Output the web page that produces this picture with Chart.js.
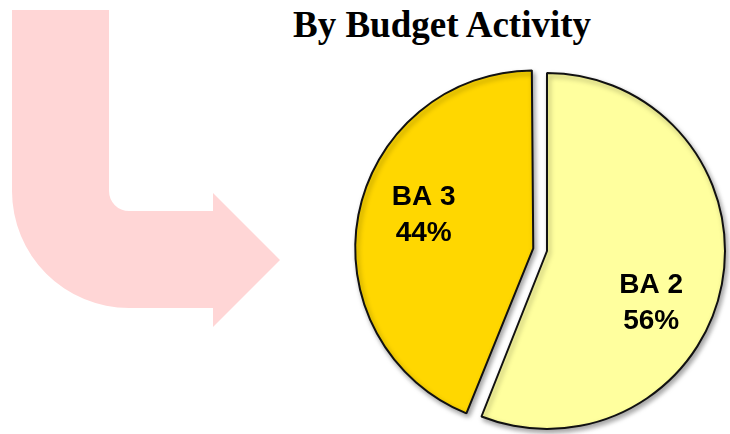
<html>
<head>
<title>By Budget Activity</title>
<script src="https://cdn.jsdelivr.net/npm/chart.js@4.4.1/dist/chart.umd.min.js"></script>
<style type="text/css">
  body {
    margin: 0;
    background: #ffffff;
  }
  #wrap {
    position: relative;
    width: 730px;
    height: 434px;
    overflow: hidden;
  }
  #arrow {
    position: absolute;
    left: 0;
    top: 0;
  }
  #chart-title {
    position: absolute;
    left: 154px;
    top: 6px;
    width: 576px;
    text-align: center;
    font-family: "Liberation Serif", "Times New Roman", serif;
    font-weight: bold;
    font-size: 37px;
    line-height: 1;
    color: #000;
  }
  #pie {
    position: absolute;
    left: 0;
    top: 0;
  }
</style>
</head>
<body>

<div id="wrap">
  <!-- pink bent arrow in the background -->
  <svg id="arrow" width="300" height="434">
    <path d="M12,10 H109 V191 A20,20 0 0 0 129,211 H213 V193 L280,260 L213,327 V308 H129 A117,117 0 0 1 12,191 Z"
          fill="#ffd6d6"/>
  </svg>
  <div id="chart-title">By Budget Activity</div>
  <canvas id="pie" width="730" height="434"></canvas>
</div>

<script>
// data
var categories = ['BA 2', 'BA 3'];
var shares = [56, 44];
var sliceColors = ['#ffff9e', '#ffd700'];
var sliceEdges = ['#e6e67a', '#e9b800'];
var explode = [0, 56];   // chart.js moves a slice by offset/4

// label spots: turn from the slice middle (deg) and part of the radius
var labelTurn = [15, 7];
var labelReach = [0.65, 0.68];

// chart.js grows an offset arc a bit, pull it back so both halves match
var keepRadius = {
  id: 'keepRadius',
  afterDatasetsUpdate: function(chart) {
    chart.getDatasetMeta(0).data.forEach(function(arc) {
      var off = (arc.options.offset || 0) / 4;
      var fix = 1 - Math.sin(Math.min(Math.PI, arc.circumference));
      arc.outerRadius -= off * fix;
    });
  }
};

// soft drop shadow under the slices
var softShadow = {
  id: 'softShadow',
  beforeDatasetsDraw: function(chart) {
    var ctx = chart.ctx;
    ctx.save();
    ctx.shadowColor = 'rgba(0,0,0,0.35)';
    ctx.shadowBlur = 5;
    ctx.shadowOffsetX = 2;
    ctx.shadowOffsetY = 3;
  },
  afterDatasetsDraw: function(chart) {
    chart.ctx.restore();
  }
};

var sliceLabels = {
  id: 'sliceLabels',
  afterDraw: function(chart) {
    var ctx = chart.ctx;
    var total = shares.reduce(function(a, b) { return a + b; }, 0);
    chart.getDatasetMeta(0).data.forEach(function(arc, i) {
      var mid = (arc.startAngle + arc.endAngle) / 2;
      var shift = (arc.options.offset || 0) / 4;
      var cx = arc.x + Math.cos(mid) * shift;
      var cy = arc.y + Math.sin(mid) * shift;
      var a = mid + labelTurn[i] * Math.PI / 180;
      var r = arc.outerRadius * labelReach[i];
      var x = cx + Math.cos(a) * r;
      var y = cy + Math.sin(a) * r;
      ctx.save();
      ctx.fillStyle = '#000';
      ctx.font = 'bold 28px "Liberation Sans", Arial, sans-serif';
      ctx.textAlign = 'center';
      ctx.textBaseline = 'alphabetic';
      ctx.fillText(categories[i], x, y - 18 + 10);
      ctx.fillText(Math.round(shares[i] / total * 100) + '%', x, y + 18 + 10);
      ctx.restore();
    });
  }
};

function shade(context) {
  var arc = context.element;
  var i = context.dataIndex;
  if (!arc || !arc.outerRadius) return sliceColors[i];
  var g = context.chart.ctx.createRadialGradient(arc.x, arc.y, 0, arc.x, arc.y, arc.outerRadius);
  g.addColorStop(0, sliceColors[i]);
  g.addColorStop(0.9, sliceColors[i]);
  g.addColorStop(1, sliceEdges[i]);
  return g;
}

var ctx = document.getElementById('pie').getContext('2d');
var myChart = new Chart(ctx, {
  type: 'pie',
  data: {
    labels: categories,
    datasets: [{
      data: shares,
      backgroundColor: shade,
      borderColor: '#111111',
      borderWidth: 2,
      offset: explode,
      radius: 178
    }]
  },
  options: {
    responsive: false,
    animation: false,
    events: [],
    layout: {
      padding: { left: 364, right: 0, top: 68, bottom: 0 }
    },
    plugins: {
      legend: { display: false },
      title: { display: false },
      tooltip: { enabled: false }
    }
  },
  plugins: [keepRadius, softShadow, sliceLabels]
});
</script>

</body>
</html>
